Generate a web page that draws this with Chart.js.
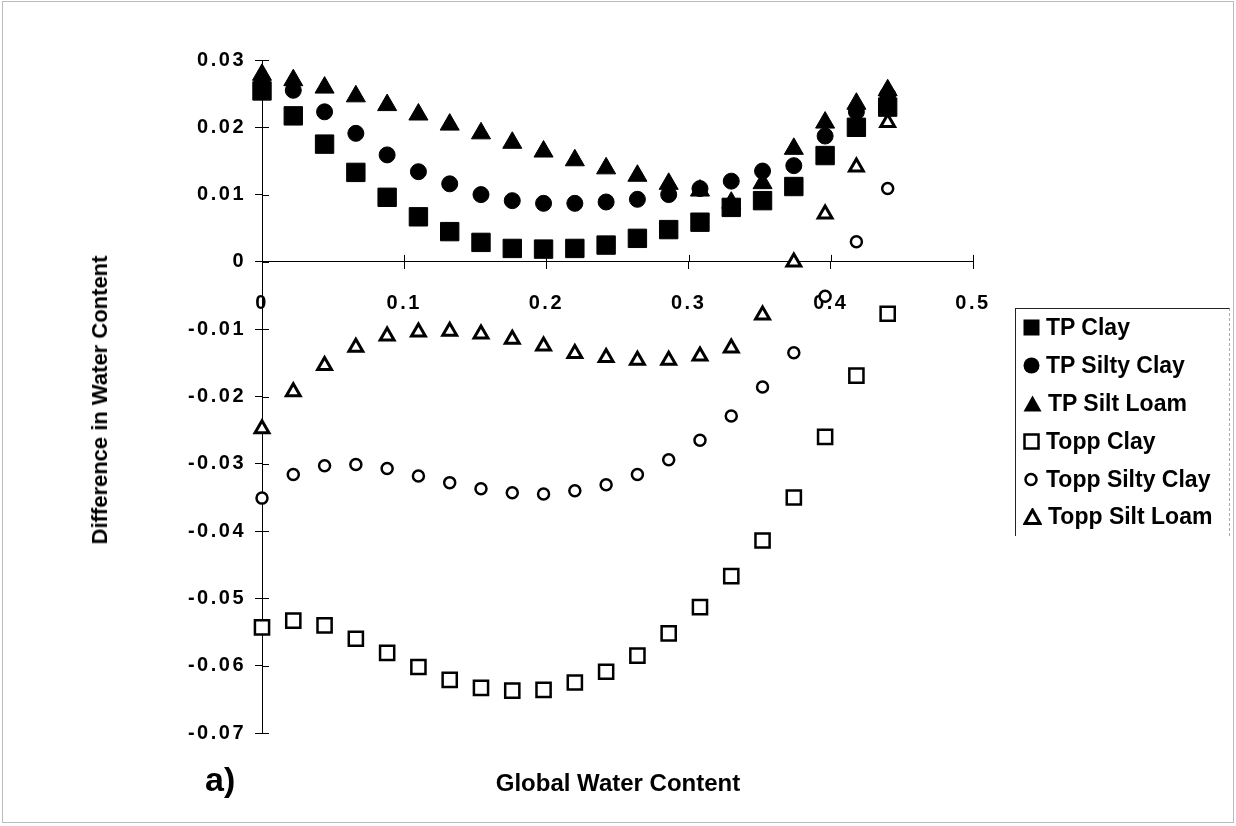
<!DOCTYPE html>
<html>
<head>
<meta charset="utf-8">
<script src="https://cdn.jsdelivr.net/npm/chart.js@4.4.1/dist/chart.umd.min.js"></script>
<style>
  body { margin: 0; background: #fff; font-family: "Liberation Sans", Arial, sans-serif; }
  #wrap { position: relative; width: 1236px; height: 826px; }
  #frame { position: absolute; left: 2px; top: 1px; right: 2px; bottom: 3px; border: 1px solid #bbb; }
  #chart { position: absolute; left: 0; top: 0; }
  .ytitle { position: absolute; left: 100px; top: 400px; transform: translate(-50%, -50%) rotate(-90deg);
            font-weight: bold; font-size: 22px; white-space: nowrap; color: #000; }
  .xtitle { position: absolute; left: 618px; top: 783px; transform: translate(-50%, -50%);
            font-weight: bold; font-size: 24px; white-space: nowrap; color: #000; }
  .panel { position: absolute; left: 205px; top: 760px; font-weight: bold; font-size: 34px; color: #000; }
  .legend { position: absolute; left: 1015px; top: 308px; width: 213px; height: 227px;
            border-left: 1px solid #222; border-top: 1px solid #222; border-right: 1px dashed #aaa; }
  .legend div { height: 37.8px; display: flex; align-items: center; font-weight: bold; font-size: 23px; color: #000; white-space: nowrap; }
  .legend svg { margin-left: 7px; margin-right: 6px; flex: none; }
</style>
</head>
<body>
<div id="wrap">
  <div id="frame"></div>
  <canvas id="chart" width="1236" height="826"></canvas>
  <div class="ytitle">Difference in Water Content</div>
  <div class="xtitle">Global Water Content</div>
  <div class="panel">a)</div>
  <div class="legend" id="legend"></div>
</div>
<script>
const globalWater = [0, 0.022, 0.044, 0.066, 0.088, 0.11, 0.132, 0.154, 0.176, 0.198, 0.22,
  0.242, 0.264, 0.286, 0.308, 0.33, 0.352, 0.374, 0.396, 0.418, 0.44];

const tpClay = [0.0254, 0.0217, 0.0175, 0.0133, 0.0096, 0.0067, 0.0045, 0.0029, 0.002, 0.0019, 0.002,
  0.0025, 0.0035, 0.0048, 0.0059, 0.0081, 0.0091, 0.0112, 0.0158, 0.02, 0.023];
const tpSiltyClay = [0.0265, 0.0255, 0.0223, 0.0191, 0.0159, 0.0134, 0.0116, 0.01, 0.0091, 0.0087, 0.0087,
  0.0089, 0.0093, 0.01, 0.0109, 0.012, 0.0135, 0.0143, 0.0187, 0.0223, 0.0248];
const tpSiltLoam = [0.0278, 0.027, 0.0259, 0.0246, 0.0233, 0.0219, 0.0204, 0.0191, 0.0177, 0.0164, 0.0151,
  0.0139, 0.0128, 0.0116, 0.0106, 0.0088, 0.0117, 0.0168, 0.0207, 0.0235, 0.0255];
const toppClay = [-0.0543, -0.0533, -0.054, -0.056, -0.0581, -0.0602, -0.0621, -0.0633, -0.0637, -0.0636, -0.0625,
  -0.0609, -0.0585, -0.0552, -0.0513, -0.0467, -0.0414, -0.035, -0.026, -0.0169, -0.0077];
const toppSiltyClay = [-0.0351, -0.0316, -0.0303, -0.0301, -0.0307, -0.0318, -0.0328, -0.0337, -0.0343, -0.0345, -0.034,
  -0.0331, -0.0316, -0.0294, -0.0265, -0.0229, -0.0186, -0.0135, -0.0051, 0.003, 0.0109];
const toppSiltLoam = [-0.0248, -0.0193, -0.0154, -0.0127, -0.011, -0.0104, -0.0103, -0.0107, -0.0115, -0.0125, -0.0136,
  -0.0142, -0.0146, -0.0146, -0.014, -0.0128, -0.0079, 0.0, 0.0071, 0.0141, 0.0207];

const seriesNames = ["TP Clay", "TP Silty Clay", "TP Silt Loam", "Topp Clay", "Topp Silty Clay", "Topp Silt Loam"];
const xTicks = [0, 0.1, 0.2, 0.3, 0.4, 0.5];
const yTicks = [0.03, 0.02, 0.01, 0, -0.01, -0.02, -0.03, -0.04, -0.05, -0.06, -0.07];

const toPoints = (ys) => globalWater.map((x, i) => ({ x: x, y: ys[i] }));

const styles = [
  { pointStyle: "rect", pointRadius: 13, backgroundColor: "#000", borderWidth: 1 },
  { pointStyle: "circle", pointRadius: 8, backgroundColor: "#000", borderWidth: 1 },
  { pointStyle: "triangle", pointRadius: 11, backgroundColor: "#000", borderWidth: 1 },
  { pointStyle: "rect", pointRadius: 10, backgroundColor: "#fff", borderWidth: 2.5 },
  { pointStyle: "circle", pointRadius: 5.5, backgroundColor: "#fff", borderWidth: 2.5 },
  { pointStyle: "triangle", pointRadius: 8, backgroundColor: "#fff", borderWidth: 3 },
];
const allSeries = [tpClay, tpSiltyClay, tpSiltLoam, toppClay, toppSiltyClay, toppSiltLoam];

const datasets = allSeries.map((ys, i) => ({
  label: seriesNames[i],
  data: toPoints(ys),
  showLine: false,
  clip: false,
  borderColor: "#000",
  pointHoverRadius: styles[i].pointRadius,
  order: 6 - i,
  ...styles[i],
}));

// Excel-style "cross" tick marks: draw the inner half of each tick
const crossTicks = {
  id: "crossTicks",
  beforeDatasetsDraw(chart) {
    const { ctx, scales, chartArea } = chart;
    const y0 = scales.y.getPixelForValue(0);
    ctx.save();
    ctx.strokeStyle = "#000";
    ctx.lineWidth = 1;
    ctx.beginPath();
    scales.x.ticks.forEach((t) => {
      const px = Math.round(scales.x.getPixelForValue(t.value)) + 0.5;
      ctx.moveTo(px, y0);
      ctx.lineTo(px, y0 - 7);
    });
    scales.y.ticks.forEach((t) => {
      const py = Math.round(scales.y.getPixelForValue(t.value)) + 0.5;
      ctx.moveTo(chartArea.left, py);
      ctx.lineTo(chartArea.left + 7, py);
    });
    ctx.stroke();
    ctx.restore();
  },
};

// tick labels in the scan are slightly letter-spaced
const spacedText = {
  id: "spacedText",
  beforeLayout(chart) { chart.ctx.letterSpacing = "2.5px"; },
  beforeDraw(chart) { chart.ctx.letterSpacing = "2.5px"; },
};

const tickFont = { family: "'Liberation Sans', Arial, sans-serif", size: 20, weight: "bold" };

new Chart(document.getElementById("chart"), {
  type: "scatter",
  data: { datasets },
  options: {
    responsive: false,
    animation: false,
    events: [],
    layout: { padding: { left: 0, right: 263, top: 60, bottom: 93 } },
    plugins: { legend: { display: false }, tooltip: { enabled: false } },
    scales: {
      y: {
        type: "linear",
        position: "left",
        min: -0.07,
        max: 0.03,
        afterBuildTicks: (scale) => { scale.ticks = yTicks.map((v) => ({ value: v })); },
        afterFit: (scale) => { scale.width = 262; },
        ticks: {
          color: "#000",
          font: tickFont,
          padding: 9,
          callback: (v) => String(+v.toFixed(2)),
        },
        grid: { drawOnChartArea: false, tickLength: 7, tickColor: "#000", tickWidth: 1 },
        border: { display: true, color: "#000", width: 1 },
      },
      x: {
        type: "linear",
        position: { y: 0 },
        min: 0,
        max: 0.5,
        afterBuildTicks: (scale) => { scale.ticks = xTicks.map((v) => ({ value: v })); },
        ticks: {
          color: "#000",
          font: tickFont,
          padding: 23,
          maxRotation: 0,
          callback: (v) => String(+v.toFixed(1)),
        },
        grid: { drawOnChartArea: false, tickLength: 7, tickColor: "#000", tickWidth: 1 },
        border: { display: true, color: "#000", width: 1 },
      },
    },
  },
  plugins: [crossTicks, spacedText],
});

// legend markers
const markerSvg = [
  '<svg width="17" height="17"><rect x="0.5" y="0.5" width="16" height="16" fill="#000"/></svg>',
  '<svg width="17" height="17"><circle cx="8.5" cy="8.5" r="8" fill="#000"/></svg>',
  '<svg width="19" height="17"><polygon points="9.5,0.5 18.5,16.5 0.5,16.5" fill="#000"/></svg>',
  '<svg width="17" height="17"><rect x="1.5" y="1.5" width="14" height="14" fill="#fff" stroke="#000" stroke-width="2.5"/></svg>',
  '<svg width="17" height="17"><circle cx="8" cy="8.5" r="5.5" fill="#fff" stroke="#000" stroke-width="2.5"/></svg>',
  '<svg width="19" height="17"><polygon points="9.5,2 17,15.5 2,15.5" fill="#fff" stroke="#000" stroke-width="3" stroke-linejoin="miter"/></svg>',
];
document.getElementById("legend").innerHTML = seriesNames
  .map((name, i) => "<div>" + markerSvg[i] + "<span>" + name + "</span></div>")
  .join("");
</script>
</body>
</html>
